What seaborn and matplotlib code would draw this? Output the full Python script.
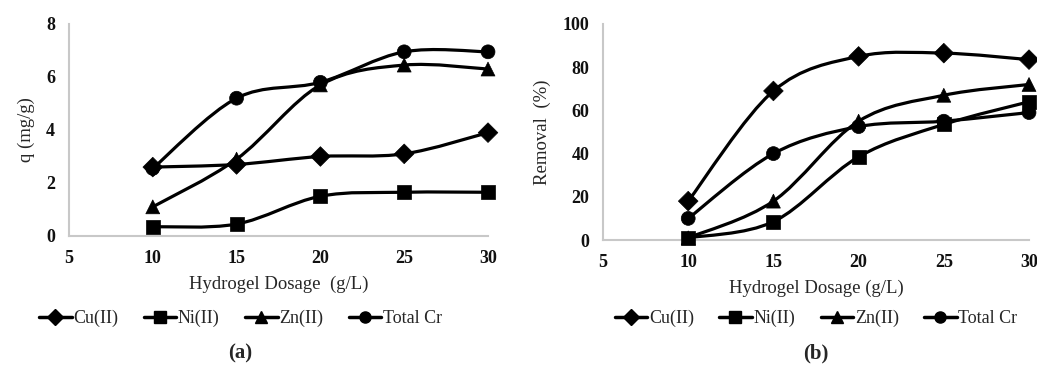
import numpy as np
import pandas as pd
import matplotlib
matplotlib.use("Agg")
import matplotlib.pyplot as plt
from matplotlib.path import Path
from matplotlib.patches import PathPatch
from matplotlib.lines import Line2D
import seaborn as sns

dosage = [10, 15, 20, 25, 30]
metals = ["Cu(II)", "Ni(II)", "Zn(II)", "Total Cr"]
markers = {"Cu(II)": "D", "Ni(II)": "s", "Zn(II)": "^", "Total Cr": "o"}

# (a) adsorption capacity q (mg/g)
q_cu = [2.6, 2.7, 3.0, 3.1, 3.9]
q_ni = [0.35, 0.45, 1.5, 1.65, 1.65]
q_zn = [1.1, 2.9, 5.7, 6.45, 6.3]
q_cr = [2.55, 5.2, 5.8, 6.95, 6.95]

# (b) removal (%)
r_cu = [18, 69, 85, 86.5, 83.5]
r_ni = [1, 8.5, 38.5, 53.5, 64]
r_zn = [1, 18, 55, 67, 72]
r_cr = [10, 40, 52.5, 55, 59]


def long_df(series):
    rows = []
    for name, vals in zip(metals, series):
        for x, y in zip(dosage, vals):
            rows.append({"dosage": x, "value": y, "metal": name})
    return pd.DataFrame(rows)


def smooth_path(xs, ys):
    # Catmull-Rom converted to cubic bezier control points (Excel-like smoothing)
    P = np.column_stack([xs, ys]).astype(float)
    n = len(P)
    verts = [P[0]]
    codes = [Path.MOVETO]
    for i in range(n - 1):
        p0 = P[i - 1] if i > 0 else P[i]
        p1, p2 = P[i], P[i + 1]
        p3 = P[i + 2] if i + 2 < n else P[i + 1]
        c1 = p1 + (p2 - p0) / 6.0
        c2 = p2 - (p3 - p1) / 6.0
        verts += [c1, c2, p2]
        codes += [Path.CURVE4] * 3
    return Path(verts, codes)


sns.set_theme(style="white")
plt.rcParams["font.family"] = ["Liberation Serif", "DejaVu Serif"]

fig = plt.figure(figsize=(10.37, 3.68), dpi=100)
ax1 = fig.add_axes([0.0665, 0.3587, 0.4041, 0.5761])
ax2 = fig.add_axes([0.5815, 0.3478, 0.4108, 0.5870])


def draw(ax, series, ylim, yticks, ylabel, xlabel, tag, legend_x):
    df = long_df(series)
    for name, vals in zip(metals, series):
        ax.add_patch(PathPatch(smooth_path(dosage, vals), facecolor="none",
                               edgecolor="black", lw=2.3, zorder=2))
    sns.scatterplot(data=df, x="dosage", y="value", style="metal",
                    markers=markers, color="black", s=100, edgecolor="black",
                    linewidth=0.5, legend=False, ax=ax, zorder=3)
    ax.set_xlim(5, 30)
    ax.set_ylim(*ylim)
    ax.set_xticks([5, 10, 15, 20, 25, 30])
    ax.set_yticks(yticks)
    ax.tick_params(labelsize=13, colors="#111111", length=0, pad=10)
    for lab in ax.get_xticklabels() + ax.get_yticklabels():
        lab.set_fontweight("bold")
    sns.despine(ax=ax)
    for sp in ("left", "bottom"):
        ax.spines[sp].set_color("#c8c8c8")
        ax.spines[sp].set_linewidth(1.5)
    ax.set_xlabel(xlabel, fontsize=13.5, labelpad=6)
    ax.set_ylabel(ylabel, fontsize=13.5, labelpad=8)
    handles = [Line2D([], [], color="black", lw=2.5, marker=markers[m],
                      markersize=8, label=m) for m in metals]
    fig.legend(handles=handles, loc="center", ncol=4,
               bbox_to_anchor=(legend_x, 0.135), frameon=False, fontsize=13,
               handlelength=1.8, handletextpad=0.1, columnspacing=1.4)
    fig.text(legend_x, 0.04, tag, ha="center", va="center", fontsize=15,
             fontweight="bold")


draw(ax1, [q_cu, q_ni, q_zn, q_cr], (0, 8), [0, 2, 4, 6, 8],
     "q (mg/g)", "Hydrogel Dosage  (g/L)", "(a)", 0.232)
draw(ax2, [r_cu, r_ni, r_zn, r_cr], (0, 100), [0, 20, 40, 60, 80, 100],
     "Removal  (%)", "Hydrogel Dosage (g/L)", "(b)", 0.787)

for ax in (ax1, ax2):
    for coll in ax.collections:
        coll.set_clip_on(False)

fig.savefig("out.png", dpi=100)
